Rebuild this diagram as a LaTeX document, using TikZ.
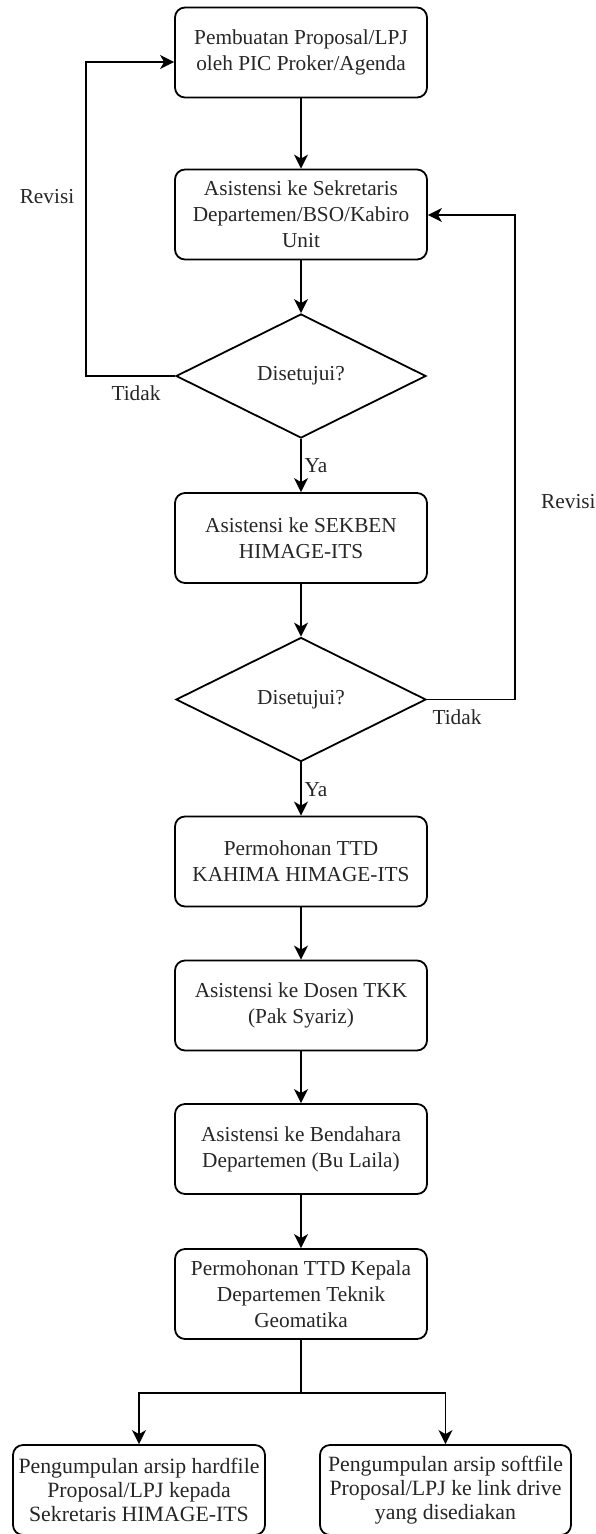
\documentclass[tikz,border=0pt]{standalone}
\usepackage{fontspec}
\setmainfont{Liberation Serif}
\usetikzlibrary{shapes.geometric,arrows.meta,calc}
\begin{document}
\begin{tikzpicture}[x=1pt,y=-1pt,
  every node/.style={font=\fontsize{21.3}{26}\selectfont, text=black!85},
  stepbox/.style={draw, line width=1.8pt, rounded corners=10pt, minimum width=252pt, minimum height=90pt, align=center, inner sep=0pt},
  decide/.style={draw, line width=1.8pt, shape=diamond, minimum width=250pt, minimum height=124pt, inner sep=0pt, aspect=2},
  conn/.style={line width=1.8pt},
  arr/.style={conn, -{Stealth[length=14pt, width=14pt, inset=4pt]}},
  lbl/.style={inner sep=0pt}
]
\useasboundingbox (0,0) rectangle (595,1534);
\node[stepbox] (b1) at (301,52.5) {Pembuatan Proposal/LPJ\\oleh PIC Proker/Agenda};
\node[stepbox] (b2) at (301,214.5) {Asistensi ke Sekretaris\\Departemen/BSO/Kabiro\\Unit};
\node[decide] (d1) at (301,376) {Disetujui?};
\node[stepbox] (b3) at (301,538) {Asistensi ke SEKBEN\\HIMAGE-ITS};
\node[decide] (d2) at (301,699.5) {Disetujui?};
\node[stepbox] (b4) at (301,861.5) {Permohonan TTD\\KAHIMA HIMAGE-ITS};
\node[stepbox] (b5) at (301,1005.5) {Asistensi ke Dosen TKK\\(Pak Syariz)};
\node[stepbox] (b6) at (301,1149) {Asistensi ke Bendahara\\Departemen (Bu Laila)};
\node[stepbox] (b7) at (301,1294) {Permohonan TTD Kepala\\Departemen Teknik\\Geomatika};
\node[stepbox, font=\fontsize{21.8}{24}\selectfont] (b8) at (139,1490) {Pengumpulan arsip hardfile\\Proposal/LPJ kepada\\Sekretaris HIMAGE-ITS};
\node[stepbox, font=\fontsize{21.8}{24}\selectfont, minimum width=251pt] (b9) at (445.5,1490) {Pengumpulan arsip softfile\\Proposal/LPJ ke link drive\\yang disediakan};

\draw[arr] (b1) -- (b2);
\draw[arr] (b2) -- (d1);
\draw[arr] (d1) -- (b3);
\draw[arr] (b3) -- (d2);
\draw[arr] (d2) -- (b4);
\draw[arr] (b4) -- (b5);
\draw[arr] (b5) -- (b6);
\draw[arr] (b6) -- (b7);

\coordinate (l1) at (86,62);
\draw[arr] (d1.west) -| (l1) -- (l1 -| b1.west);
\coordinate (r1) at (515,215);
\draw[arr] (d2.east) -| (r1) -- (r1 -| b2.east);

\coordinate (s) at (301,1393);
\draw[conn] (b7.south) -- (s);
\draw[arr] (s) -| (b8.north);
\draw[arr] (s) -| (b9.north);

\node[lbl] (rv1) at (47,197) {Revisi};
\node[lbl] (td1) at (136,393) {Tidak};
\node[lbl] (ya1) at (316,466) {Ya};
\node[lbl, anchor=west] (rv2) at (541,502) {Revisi};
\node[lbl] (td2) at (457,717) {Tidak};
\node[lbl] (ya2) at (316,790) {Ya};
\end{tikzpicture}
\end{document}
